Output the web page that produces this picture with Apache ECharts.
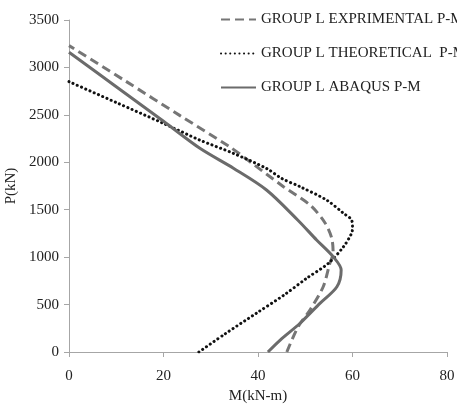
<!DOCTYPE html>
<html>
<head>
<meta charset="utf-8">
<script src="https://cdn.jsdelivr.net/npm/echarts@6/dist/echarts.min.js"></script>
<style>
  html, body { margin: 0; padding: 0; background: #fff; }
  #chart { width: 457px; height: 419px; }
</style>
</head>
<body>
<div id="chart"></div>
<script>
// P-M interaction curves for group L columns: [M (kN-m), P (kN)]
const seriesNames = [
  'GROUP L EXPRIMENTAL P-M',
  'GROUP L THEORETICAL  P-M',
  'GROUP L ABAQUS P-M'
];

const experimental = [
  [46.1, 0], [48.5, 267], [51.0, 443], [53.8, 688], [55.2, 935],
  [55.9, 1044], [55.6, 1200], [54.2, 1360], [51.0, 1550], [45.4, 1743],
  [38.3, 2006], [34.1, 2160], [23.5, 2492], [12.0, 2855], [0, 3230]
];

const theoretical = [
  [27.5, 0], [33.0, 190], [39.7, 410], [45.5, 600], [50.3, 777],
  [54.9, 935], [58.1, 1110], [59.8, 1251], [60.0, 1310], [59.8, 1392],
  [58.1, 1462], [54.5, 1602], [48.9, 1743], [45.0, 1830], [41.8, 1935],
  [34.8, 2094], [27.7, 2234], [20.0, 2410], [10.0, 2630], [0, 2850]
];

const abaqus = [
  [42.1, 0], [44.7, 126], [48.9, 303], [53.1, 513], [56.7, 688],
  [57.6, 865], [55.9, 1005], [52.4, 1181], [48.4, 1392], [41.8, 1708],
  [34.8, 1937], [27.7, 2147], [20.0, 2432], [10.0, 2796], [0, 3160]
];

const xTicks = { min: 0, max: 80, interval: 20 };
const yTicks = { min: 0, max: 3500, interval: 500 };

const serifFont = '"Liberation Serif", "DejaVu Serif", serif';
const axisGray = '#a6a6a6';
const textColor = '#222';

const chart = echarts.init(document.getElementById('chart'), null, { renderer: 'canvas' });

chart.setOption({
  backgroundColor: '#ffffff',
  animation: false,
  grid: { left: 69, right: 10, top: 20, bottom: 67, containLabel: false, outerBoundsMode: 'none' },
  legend: {
    orient: 'vertical',
    left: 220,
    top: 12,
    padding: 0,
    itemWidth: 35,
    itemHeight: 14,
    itemGap: 19,
    itemStyle: { opacity: 0 },
    textStyle: { fontFamily: serifFont, fontSize: 15, color: textColor },
    data: seriesNames
  },
  xAxis: {
    type: 'value',
    min: xTicks.min, max: xTicks.max, interval: xTicks.interval,
    name: 'M(kN-m)',
    nameLocation: 'middle',
    nameGap: 37,
    nameTextStyle: { fontFamily: serifFont, fontSize: 15, color: textColor },
    axisLine: { show: true, lineStyle: { color: axisGray, width: 1 } },
    axisTick: { show: true, length: 5, lineStyle: { color: axisGray } },
    axisLabel: { fontFamily: serifFont, fontSize: 15, color: textColor, margin: 17,
                 formatter: v => String(v) },
    splitLine: { show: false }
  },
  yAxis: {
    type: 'value',
    min: yTicks.min, max: yTicks.max, interval: yTicks.interval,
    name: 'P(kN)',
    nameLocation: 'middle',
    nameGap: 47,
    nameTextStyle: { fontFamily: serifFont, fontSize: 15, color: textColor },
    axisLine: { show: true, lineStyle: { color: axisGray, width: 1 } },
    axisTick: { show: true, length: 5, lineStyle: { color: axisGray } },
    axisLabel: { fontFamily: serifFont, fontSize: 15, color: textColor, margin: 10,
                 formatter: v => String(v) },
    splitLine: { show: false }
  },
  series: [
    {
      name: seriesNames[0],
      type: 'line',
      data: experimental,
      smooth: 0.3,
      showSymbol: false,
      symbol: 'none',
      color: '#767676',
      lineStyle: { color: '#767676', width: 3, type: [9, 5] }
    },
    {
      name: seriesNames[1],
      type: 'line',
      data: theoretical,
      smooth: 0.3,
      showSymbol: false,
      symbol: 'none',
      color: '#111111',
      lineStyle: { color: '#111111', width: 3, type: [0.1, 4.5], cap: 'round' }
    },
    {
      name: seriesNames[2],
      type: 'line',
      data: abaqus,
      smooth: 0.3,
      showSymbol: false,
      symbol: 'none',
      color: '#6b6b6b',
      lineStyle: { color: '#6b6b6b', width: 3, type: 'solid' }
    }
  ]
});
</script>
</body>
</html>
